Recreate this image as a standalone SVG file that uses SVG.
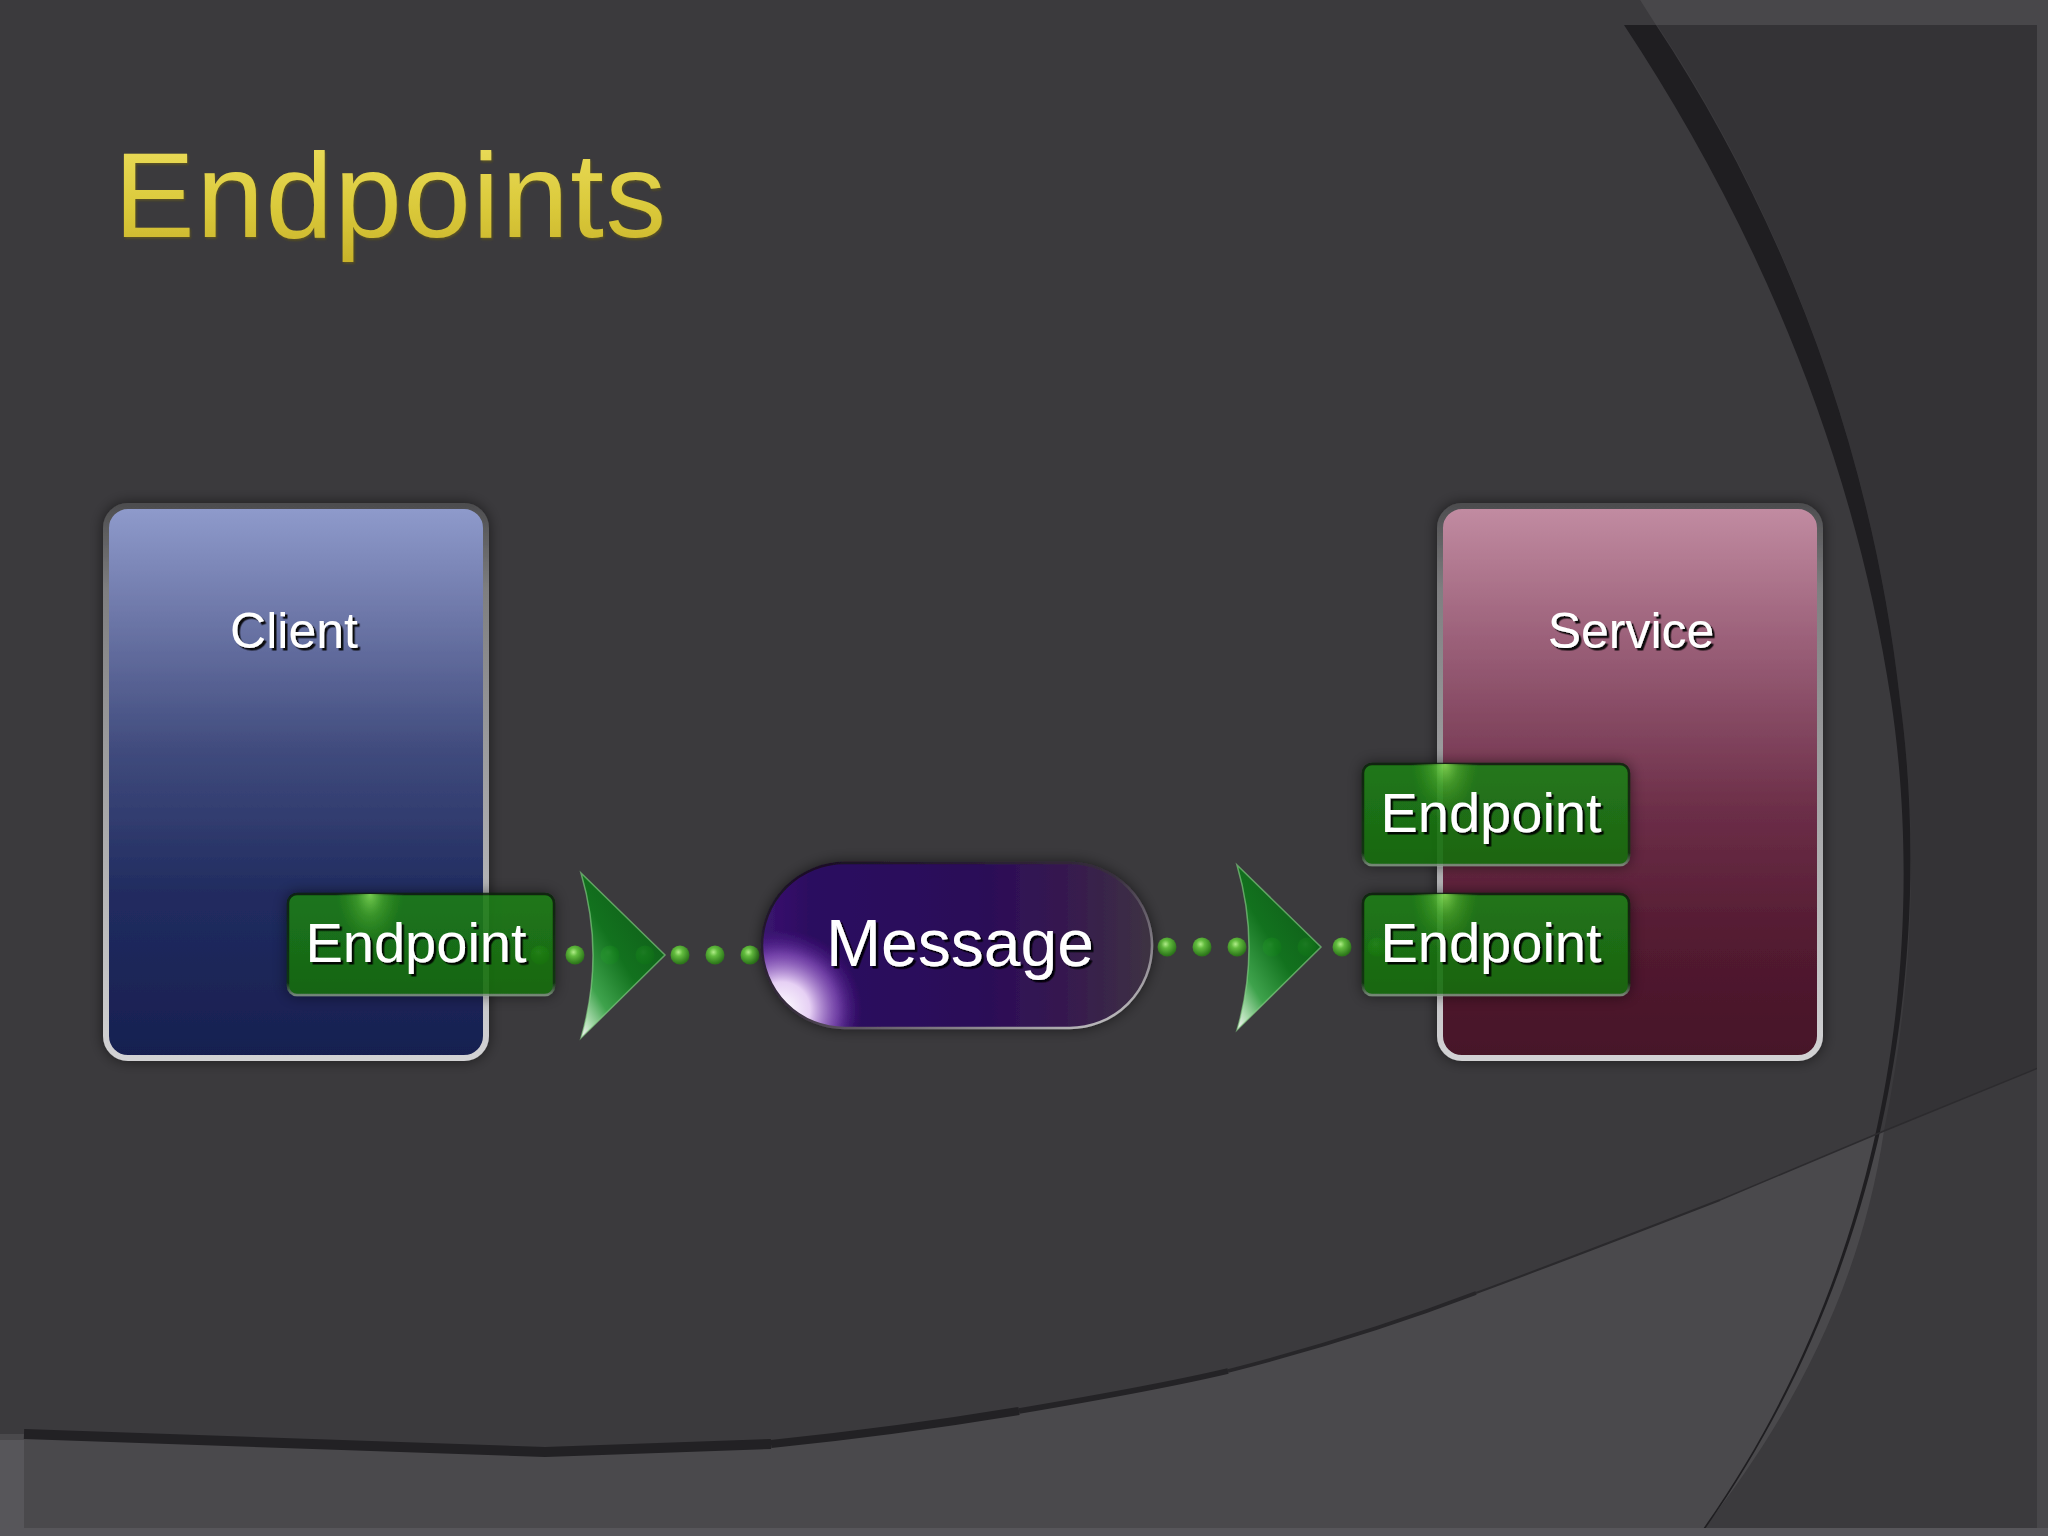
<svg xmlns="http://www.w3.org/2000/svg" width="2048" height="1536" viewBox="0 0 2048 1536">
<defs>
<style>
.lbl{font-family:"Liberation Sans",Arial,sans-serif;fill:#ffffff;text-anchor:middle;}
.ep-text{font-size:56px;}
.box-text{font-size:50px;}
</style>
<linearGradient id="titleGrad" x1="0" y1="0" x2="0" y2="1">
<stop offset="0" stop-color="#eee060"/>
<stop offset="0.6" stop-color="#dac93a"/>
<stop offset="1" stop-color="#c8b22a"/>
</linearGradient>
<linearGradient id="clientGrad" x1="0" y1="0" x2="0" y2="1">
<stop offset="0" stop-color="#8f9bcc"/>
<stop offset="0.2" stop-color="#6d77a8"/>
<stop offset="0.45" stop-color="#3f4a7c"/>
<stop offset="0.7" stop-color="#212c60"/>
<stop offset="1" stop-color="#171f50"/>
</linearGradient>
<linearGradient id="serviceGrad" x1="0" y1="0" x2="0" y2="1">
<stop offset="0" stop-color="#c28ca2"/>
<stop offset="0.25" stop-color="#9a5f78"/>
<stop offset="0.55" stop-color="#6c2e48"/>
<stop offset="0.8" stop-color="#521a30"/>
<stop offset="1" stop-color="#461528"/>
</linearGradient>
<linearGradient id="boxStroke" x1="0" y1="0" x2="0" y2="1">
<stop offset="0" stop-color="#4e4e50"/>
<stop offset="0.15" stop-color="#7e7e80"/>
<stop offset="1" stop-color="#d2d2d4"/>
</linearGradient>
<linearGradient id="epGrad" x1="0" y1="0" x2="0" y2="1">
<stop offset="0" stop-color="#1c7e14"/>
<stop offset="1" stop-color="#166c0f"/>
</linearGradient>
<linearGradient id="epStroke" x1="0" y1="0" x2="0" y2="1">
<stop offset="0" stop-color="#082408"/>
<stop offset="0.88" stop-color="#0c360c"/>
<stop offset="1" stop-color="#7e927e"/>
</linearGradient>
<radialGradient id="epGlow" cx="0.5" cy="0.5" r="0.5">
<stop offset="0" stop-color="#86e454" stop-opacity="0.95"/>
<stop offset="0.4" stop-color="#5cc436" stop-opacity="0.5"/>
<stop offset="1" stop-color="#3aa020" stop-opacity="0"/>
</radialGradient>
<linearGradient id="msgGrad" x1="0" y1="0" x2="1" y2="0">
<stop offset="0" stop-color="#3a1470"/>
<stop offset="0.12" stop-color="#2c0a60"/>
<stop offset="0.55" stop-color="#2a0b58"/>
<stop offset="0.78" stop-color="#36194f"/>
<stop offset="1" stop-color="#3d3342"/>
</linearGradient>
<radialGradient id="msgHi" cx="0.5" cy="0.5" r="0.5">
<stop offset="0" stop-color="#ffffff"/>
<stop offset="0.35" stop-color="#e6d0f4"/>
<stop offset="0.7" stop-color="#9a60d0" stop-opacity="0.6"/>
<stop offset="1" stop-color="#5a20a0" stop-opacity="0"/>
</radialGradient>
<linearGradient id="msgStroke" x1="0" y1="0" x2="1" y2="1">
<stop offset="0" stop-color="#140a20"/>
<stop offset="0.5" stop-color="#3a3040"/>
<stop offset="1" stop-color="#d0d0d0"/>
</linearGradient>
<linearGradient id="arrowGrad" x1="0.8" y1="0.1" x2="0.05" y2="1">
<stop offset="0" stop-color="#0a6014"/>
<stop offset="0.45" stop-color="#0e781b"/>
<stop offset="0.75" stop-color="#3fae4e"/>
<stop offset="0.92" stop-color="#bdf0c0"/>
<stop offset="1" stop-color="#ffffff"/>
</linearGradient>
<radialGradient id="dotGrad" cx="0.42" cy="0.35" r="0.62">
<stop offset="0" stop-color="#b0ec88"/>
<stop offset="0.35" stop-color="#62bc3e"/>
<stop offset="1" stop-color="#2c761a"/>
</radialGradient>
<clipPath id="pillClip"><rect x="762" y="863" width="390" height="165" rx="82.5"/></clipPath>
<clipPath id="epClipA"><rect x="288" y="894" width="266" height="101" rx="9"/></clipPath>
<clipPath id="epClipB"><rect x="1363" y="764" width="266" height="101" rx="9"/></clipPath>
<clipPath id="epClipC"><rect x="1363" y="894" width="266" height="101" rx="9"/></clipPath>
<filter id="boxShadow" x="-20%" y="-20%" width="140%" height="140%">
<feDropShadow dx="0" dy="0" stdDeviation="7" flood-color="#000" flood-opacity="0.55"/>
</filter>
<filter id="txtShadow" x="-10%" y="-20%" width="120%" height="140%">
<feDropShadow dx="2.5" dy="2.5" stdDeviation="0.6" flood-color="#000" flood-opacity="0.9"/>
</filter>
<filter id="titleBevel" x="-5%" y="-10%" width="110%" height="120%">
<feDropShadow dx="1" dy="1.5" stdDeviation="0.8" flood-color="#6a5e10" flood-opacity="0.7"/>
</filter>
</defs>

<g id="background">
<rect x="0" y="0" width="2048" height="1536" fill="#3b3a3d"/>
<path d="M1640,0 C1760,170 1870,420 1900,700 C1918,830 1915,980 1884,1131 L2048,1064 L2048,0 Z" fill="#343336"/>
<path d="M0,1434 L24,1434 L545,1452 Q660,1448 771,1444 C850,1436 940,1424 1019,1411 C1090,1399 1160,1387 1228,1371 C1310,1350 1400,1322 1476,1293 C1560,1262 1640,1231 1720,1200 L1884,1131 C1860,1290 1790,1420 1698,1536 L0,1536 Z" fill="#4a494c"/>
<path d="M1624,25 C1740,200 1850,430 1891,700 C1924,920 1903,1250 1698,1536 L1700,1536 C1905,1250 1930,920 1900,700 C1870,430 1772,200 1656,25 Z" fill="#1f1e21"/>
<g fill="none" stroke-linecap="butt" stroke-linejoin="round">
<path d="M24,1434 L545,1452 Q660,1448 771,1444" stroke="#222124" stroke-width="10"/>
<path d="M771,1444 C850,1436 940,1424 1019,1411" stroke="#222124" stroke-width="8"/>
<path d="M1019,1411 C1090,1399 1160,1387 1228,1371" stroke="#242326" stroke-width="5.5"/>
<path d="M1228,1371 C1310,1350 1400,1322 1476,1293" stroke="#272629" stroke-width="3.5"/>
<path d="M1476,1293 C1560,1262 1640,1231 1720,1200" stroke="#2a292c" stroke-width="2"/>
<path d="M1720,1200 L1884,1131 L2048,1064" stroke="#2c2b2e" stroke-width="1.5"/>
</g>
<path d="M1640,0 L2048,0 L2048,1536 L2037,1536 L2037,25 L1656,25 Z" fill="#48474a"/>
<path d="M0,1440 L24,1440 L24,1528 L2048,1528 L2048,1536 L0,1536 Z" fill="#57565a"/>
</g>

<text x="114" y="237" font-family="'Liberation Sans',Arial,sans-serif" font-size="121" fill="url(#titleGrad)" textLength="552" lengthAdjust="spacing" filter="url(#titleBevel)">Endpoints</text>

<g id="client" filter="url(#boxShadow)">
<rect x="106" y="506" width="380" height="552" rx="22" fill="url(#clientGrad)" stroke="url(#boxStroke)" stroke-width="6"/>
<text class="lbl box-text" x="294" y="648" filter="url(#txtShadow)">Client</text>
</g>

<g id="service" filter="url(#boxShadow)">
<rect x="1440" y="506" width="380" height="552" rx="22" fill="url(#serviceGrad)" stroke="url(#boxStroke)" stroke-width="6"/>
<text class="lbl box-text" x="1631" y="648" filter="url(#txtShadow)">Service</text>
</g>

<g id="connectors">
<g fill="url(#dotGrad)">
<circle cx="540" cy="955" r="9.5"/>
<circle cx="575" cy="955" r="9.5"/>
<circle cx="610" cy="955" r="9.5"/>
<circle cx="645" cy="955" r="9.5"/>
<circle cx="680" cy="955" r="9.5"/>
<circle cx="715" cy="955" r="9.5"/>
<circle cx="750" cy="955" r="9.5"/>
<circle cx="1167" cy="947" r="9.5"/>
<circle cx="1202" cy="947" r="9.5"/>
<circle cx="1237" cy="947" r="9.5"/>
<circle cx="1272" cy="947" r="9.5"/>
<circle cx="1307" cy="947" r="9.5"/>
<circle cx="1342" cy="947" r="9.5"/>
<circle cx="1377" cy="947" r="9.5"/>
</g>
<path id="arrow-1" d="M581,873 L665,955 L581,1038 Q605,955 581,873 Z" fill="url(#arrowGrad)" fill-opacity="0.9" stroke="#8ad88a" stroke-opacity="0.6" stroke-width="1.5"/>
<path id="arrow-2" d="M1237,865 L1321,947 L1237,1030 Q1261,947 1237,865 Z" fill="url(#arrowGrad)" fill-opacity="0.9" stroke="#8ad88a" stroke-opacity="0.6" stroke-width="1.5"/>
</g>

<g id="message" filter="url(#boxShadow)">
<rect x="762" y="863" width="390" height="165" rx="82.5" fill="url(#msgGrad)"/>
<g clip-path="url(#pillClip)">
<ellipse cx="782" cy="1010" rx="80" ry="80" fill="url(#msgHi)"/>
</g>
<rect x="762" y="863" width="390" height="165" rx="82.5" fill="none" stroke="url(#msgStroke)" stroke-width="2.5"/>
<text class="lbl" x="960" y="966" font-size="66" filter="url(#txtShadow)">Message</text>
</g>

<g id="endpoint-client">
<g filter="url(#boxShadow)" opacity="0.9">
<rect x="288" y="894" width="266" height="101" rx="9" fill="url(#epGrad)" stroke="url(#epStroke)" stroke-width="2.5"/>
<ellipse clip-path="url(#epClipA)" cx="370" cy="894" rx="34" ry="55" fill="url(#epGlow)"/>
</g>
<text class="lbl ep-text" x="416" y="962" filter="url(#txtShadow)">Endpoint</text>
</g>

<g id="endpoint-service-1">
<g filter="url(#boxShadow)" opacity="0.9">
<rect x="1363" y="764" width="266" height="101" rx="9" fill="url(#epGrad)" stroke="url(#epStroke)" stroke-width="2.5"/>
<ellipse clip-path="url(#epClipB)" cx="1445" cy="764" rx="34" ry="55" fill="url(#epGlow)"/>
</g>
<text class="lbl ep-text" x="1491" y="832" filter="url(#txtShadow)">Endpoint</text>
</g>

<g id="endpoint-service-2">
<g filter="url(#boxShadow)" opacity="0.9">
<rect x="1363" y="894" width="266" height="101" rx="9" fill="url(#epGrad)" stroke="url(#epStroke)" stroke-width="2.5"/>
<ellipse clip-path="url(#epClipC)" cx="1445" cy="894" rx="34" ry="55" fill="url(#epGlow)"/>
</g>
<text class="lbl ep-text" x="1491" y="962" filter="url(#txtShadow)">Endpoint</text>
</g>
</svg>
